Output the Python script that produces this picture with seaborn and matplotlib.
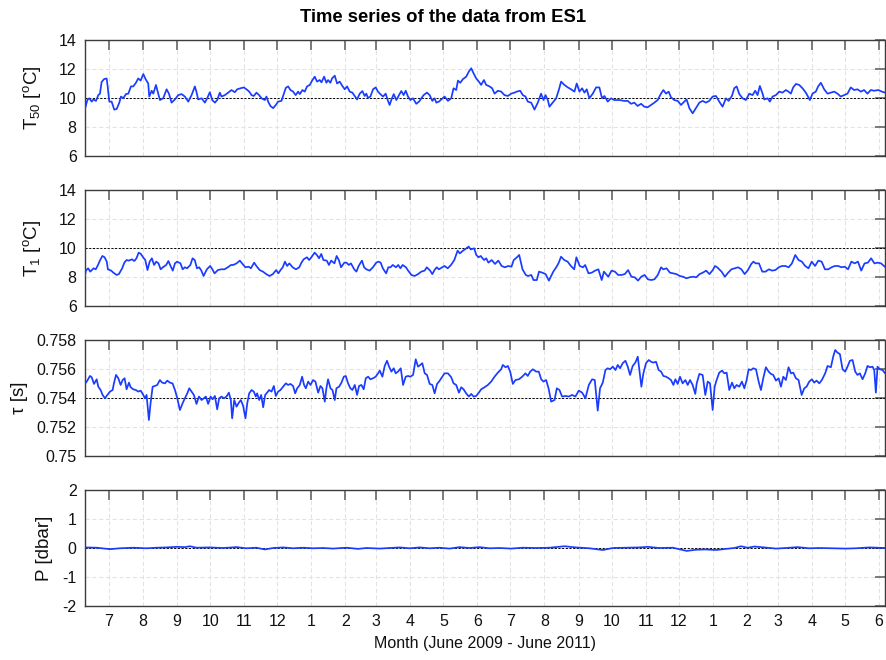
import numpy as np
import pandas as pd
import matplotlib
matplotlib.use("Agg")
import matplotlib.pyplot as plt
import matplotlib.dates as mdates
import seaborn as sns

# ---------------- data (days since 2009-06-01) ----------------
START = "2009-06-01"

t50_days = [7.6, 10.3, 12.1, 14.3, 15.8, 18.2, 20.3, 21.8, 23.3, 25.5, 27.9, 28.8, 30.3, 32.4, 34.8, 37.0,
            39.4, 40.9, 43.0, 45.4, 47.6, 50.0, 52.1, 54.5, 56.6, 58.8, 61.2, 63.3, 65.7, 66.6, 68.8, 70.3,
            72.7, 74.8, 76.3, 79.3, 82.4, 84.5, 86.9, 89.9, 93.0, 96.0, 99.0, 102.1, 105.1, 108.1, 109.6,
            111.1, 114.2, 117.2, 119.3, 121.7, 123.9, 126.3, 128.4, 130.8, 132.3, 135.4, 138.4, 141.4,
            144.4, 146.6, 149.6, 152.6, 155.0, 157.5, 159.6, 161.7, 164.1, 166.5, 168.7, 171.7, 173.2,
            174.7, 176.8, 179.3, 181.7, 183.8, 186.8, 189.0, 190.8, 192.9, 195.0, 197.4, 199.8, 202.0,
            203.5, 205.9, 208.0, 210.1, 212.6, 214.7, 217.1, 219.2, 221.6, 223.2, 225.6, 227.7, 229.2,
            231.3, 232.8, 235.3, 237.4, 239.8, 242.2, 244.4, 246.5, 248.9, 251.3, 253.4, 255.6, 258.0,
            260.4, 262.5, 264.0, 265.5, 267.7, 270.1, 272.5, 274.6, 276.7, 279.2, 281.6, 283.7, 285.2,
            286.7, 288.9, 291.3, 293.7, 295.8, 297.9, 299.8, 301.9, 304.0, 306.4, 309.4, 311.9, 314.0,
            316.1, 319.1, 321.6, 324.0, 326.1, 327.6, 330.0,
            335.1, 338.2, 341.2, 343.3, 345.7, 347.3, 349.4, 351.8, 354.8, 357.2, 359.4, 361.5, 363.9,
            366.3, 368.4, 370.9, 373.0, 376.0, 378.4, 380.6, 383.6, 386.6, 389.6, 392.7, 395.7, 398.7,
            400.8, 403.9, 406.3, 408.7, 410.8, 413.9, 416.9, 419.9, 422.9, 425.1, 426.9, 429.0, 430.5,
            433.5, 436.6, 439.0, 441.1, 444.1, 447.2, 450.2, 453.2, 455.3, 457.8, 460.2, 462.3, 464.4,
            466.8, 469.9, 472.9, 475.9, 478.3, 480.5, 483.5, 486.5, 489.5, 494.1, 498.6, 501.7, 504.7,
            507.7, 510.7, 513.8, 516.8, 519.8, 522.9, 525.9, 528.9, 531.9, 534.1, 536.5, 538.9, 541.0,
            544.0, 547.1, 550.1, 553.1, 555.2, 557.7, 560.7, 563.7, 566.8, 569.8, 572.8, 575.8, 578.9,
            581.9, 584.9, 587.9, 591.0, 593.4, 596.4, 598.5, 600.7, 603.1, 606.1, 609.1, 612.2, 615.2,
            617.6, 619.7, 621.8, 624.3, 625.8, 628.8, 630.9, 633.4, 636.4, 639.4, 642.4, 645.5, 647.9,
            650.0, 652.1, 654.6, 657.6, 660.6, 663.6, 667.3, 669.7, 672.7, 674.8, 677.3, 680.3, 683.3,
            686.3, 689.4, 692.4, 695.4, 698.5, 701.5, 704.5, 707.5, 710.6, 713.6, 716.6, 719.7, 722.7,
            725.7, 729.6, 732.7, 735.7]
t50_vals = [9.06, 9.86, 9.98, 9.75, 9.9, 9.8, 10.2, 10.3, 11.1, 11.3, 11.35, 10.8, 9.75, 9.75, 9.2, 9.24,
            9.68, 10.1, 9.98, 10.27, 10.3, 10.8, 10.8, 11.05, 11.35, 11.2, 11.65, 11.3, 11.0, 10.1, 10.5, 10.3,
            10.9, 10.3, 9.86, 9.98, 10.6, 10.3, 9.68, 9.9, 10.2, 10.27, 10.1, 9.75, 10.2, 10.8, 10.4,
            9.9, 9.98, 9.68, 9.98, 10.4, 9.86, 9.68, 9.86, 10.37, 10.1, 10.2, 10.37, 10.55,
            10.4, 10.6, 10.67, 10.73, 10.6, 10.44, 10.2, 10.14, 10.37, 10.2, 9.98, 9.86, 10.1,
            9.75, 9.45, 9.3, 9.52, 9.75, 9.8, 10.3, 10.7, 10.8, 10.55, 10.44, 10.2, 10.44,
            10.27, 10.55, 10.44, 10.8, 10.9, 11.2, 11.47, 11.13, 11.24, 11.08, 11.47, 11.05, 11.24,
            11.05, 11.35, 11.54, 11.0, 11.13, 10.83, 10.6, 10.8, 10.44, 10.37, 10.14, 9.9, 10.3,
            10.48, 10.14, 10.3, 10.0, 10.1, 10.6, 10.73, 10.44, 10.27, 10.1, 10.3, 9.8, 9.52,
            9.86, 10.27, 9.86, 10.2, 10.48, 10.2, 10.5, 10.1, 9.86, 9.98, 9.6, 9.75, 9.98,
            10.2, 10.37, 10.2, 9.8, 9.98, 9.68, 9.75,
            10.1, 9.8, 9.98, 10.67, 10.55, 11.2, 11.05, 11.3, 11.47, 11.82, 12.05, 11.7, 11.35,
            11.13, 10.9, 11.24, 10.9, 10.8, 10.67, 10.3, 10.5, 10.44, 10.2, 10.14, 10.3, 10.37,
            10.44, 10.5, 10.2, 10.1, 9.75, 9.68, 9.2, 9.68, 10.3, 9.86, 10.2, 9.86, 9.4,
            9.68, 9.98, 10.55, 11.13, 10.9, 10.73, 10.6, 10.44, 11.0, 10.44, 10.67, 10.37, 10.6,
            9.98, 10.3, 10.73, 10.73, 9.98, 10.14, 9.75, 9.98, 9.86, 9.86, 9.8, 9.8, 9.6,
            9.68, 9.45, 9.6, 9.4, 9.36, 9.52, 9.68, 9.86, 10.3, 10.55, 10.3, 10.44, 10.05,
            9.86, 9.8, 9.52, 9.75, 9.9, 9.3, 8.94, 9.3, 9.68, 9.8, 9.68, 9.8, 10.1,
            10.14, 9.75, 9.4, 9.98, 9.8, 10.14, 10.67, 10.8, 10.27, 9.98, 9.86, 10.3, 10.2,
            10.5, 10.2, 10.83, 10.3, 9.9, 9.98, 9.75, 10.1, 10.2, 10.44, 10.37, 10.55, 10.44,
            10.3, 10.73, 10.97, 10.9, 10.67, 10.37, 9.86, 10.3, 10.44, 10.8, 11.05, 10.6, 10.3,
            10.37, 10.44, 10.3, 10.1, 10.2, 10.3, 10.73, 10.55, 10.6, 10.44, 10.55, 10.3, 10.55,
            10.5, 10.55, 10.44, 10.37]

t1_days = [8, 9, 11, 13, 16, 18, 20, 22, 24, 26, 28, 29, 32, 34, 37, 39, 42, 44, 46, 48, 51, 53, 55, 57,
           59, 61, 63, 65, 67, 69, 71, 73, 75, 77, 79, 82, 84, 86, 88, 90, 92, 95, 97, 99, 101, 104, 106,
           108, 110, 112, 114, 116, 119, 122, 124, 126, 129, 132, 135, 138, 141, 143, 146, 149, 151, 154,
           157, 159, 162, 164, 167, 170, 173, 176, 179, 182, 184, 186, 188, 190, 192, 194, 197, 200, 203,
           205, 207, 210, 212, 214, 217, 219, 221, 223, 225, 228, 230, 232, 235, 237, 239, 241, 244, 246,
           248, 250, 253, 255, 257, 260, 262, 264, 267, 270, 273, 275, 277, 279, 282, 284, 286, 288, 291,
           293, 295, 297, 300, 302, 305, 308, 311, 314, 317, 319, 322, 324, 326, 328, 330,
           335, 338, 341, 344, 347, 349, 352, 355, 357, 359, 362, 364, 366, 368, 371, 373, 375, 378, 381,
           384, 387, 390, 393, 396, 398, 400, 403, 406, 409, 411, 414, 416, 419, 421, 424, 427, 430, 434,
           437, 439, 441, 444, 447, 450, 453, 455, 458, 461, 463, 466, 469, 472, 475, 478, 480, 484, 487,
           490, 493, 496, 499, 502, 505, 508, 511, 514, 517, 520, 523, 526, 529, 532, 534, 537, 540, 543,
           546, 549, 552, 555, 558, 561, 564, 567, 570, 573, 576, 579, 581, 583, 587, 590, 593, 596, 599,
           602, 605, 608, 611, 614, 616, 618, 621, 624, 627, 630, 633, 636, 639, 642, 645, 648, 651, 654,
           657, 660, 663, 666, 669, 672, 675, 678, 681, 684, 687, 690, 693, 696, 699, 702, 705, 708, 711,
           714, 717, 720, 723, 726, 729, 732, 736]
t1_vals = [8.02, 8.44, 8.6, 8.37, 8.6, 8.53, 8.83, 9.17, 9.45, 9.36, 9.06, 8.53, 8.44, 8.3, 8.14, 8.2,
           8.6, 8.99, 9.17, 9.13, 9.22, 9.1, 9.29, 9.68, 9.59, 9.36, 9.17, 8.48, 9.06, 9.29, 8.83, 9.06,
           8.94, 8.53, 8.67, 8.83, 9.1, 8.76, 8.44, 8.94, 9.06, 8.94, 8.53, 8.67, 8.6, 8.83, 9.29,
           9.17, 8.6, 8.67, 8.44, 8.07, 8.53, 8.76, 8.53, 8.25, 8.48, 8.53, 8.53, 8.67, 8.83, 8.83,
           8.94, 9.13, 8.94, 8.67, 8.71, 8.6, 8.99, 8.76, 8.48, 8.37, 8.2, 8.07, 8.2, 8.48, 8.25,
           8.48, 8.67, 9.06, 8.76, 8.94, 8.67, 8.53, 8.67, 8.99, 9.22, 9.36, 9.17, 9.36, 9.68, 9.52,
           9.29, 9.59, 9.17, 9.13, 8.83, 9.13, 8.94, 9.45, 9.17, 8.67, 8.99, 8.99, 8.83, 8.94, 8.53,
           8.37, 8.76, 9.13, 8.67, 8.53, 8.44, 8.67, 8.99, 9.06, 8.99, 8.6, 8.25, 8.67, 8.67, 8.83,
           8.67, 8.83, 8.6, 8.83, 8.67, 8.44, 8.14, 8.07, 8.2, 8.37, 8.44, 8.67, 8.44, 8.2, 8.48,
           8.67, 8.53,
           8.76, 8.6, 8.83, 9.17, 9.82, 9.63, 9.82, 9.98, 10.1, 9.9, 9.98, 9.52, 9.36, 9.45, 9.17,
           9.29, 8.99, 9.17, 8.9, 9.13, 8.76, 8.67, 8.76, 8.71, 9.17, 9.29, 9.52, 8.53, 8.14, 8.07,
           8.14, 7.79, 7.79, 8.37, 8.3, 8.2, 7.75, 8.37, 8.71, 8.99, 9.4, 9.17, 9.06, 8.76, 8.53,
           9.36, 8.76, 8.67, 8.83, 8.25, 8.3, 8.44, 8.53, 7.79, 8.37, 8.02, 8.44, 8.37, 8.14, 8.14,
           8.2, 8.48, 8.02, 7.98, 7.75, 8.02, 8.14, 7.84, 7.79, 7.84, 8.14, 8.67, 8.53, 8.6, 8.3,
           8.25, 8.2, 8.07, 8.02, 7.91, 7.98, 8.02, 7.98, 8.2, 8.3, 8.44, 8.2, 8.48, 8.76, 8.67,
           8.37, 8.02, 8.3, 8.53, 8.6, 8.67, 8.53, 8.2, 8.48, 8.9, 9.06, 8.94, 8.94, 8.37, 8.37,
           8.53, 8.44, 8.48, 8.67, 8.76, 8.76, 8.67, 8.94, 9.52, 9.17, 9.06, 8.76, 8.6, 9.06, 8.76,
           9.13, 9.06, 8.53, 8.53, 8.67, 8.76, 8.76, 8.67, 8.71, 8.53, 9.06, 8.94, 9.06, 8.44, 8.94,
           8.99, 9.29, 8.94, 8.99, 8.94, 8.67]

tau_days = [7.6, 9.1, 10.6, 12.7, 14.3, 16.4, 18.8, 20.3, 22.4, 24.2, 26.4, 28.5, 30.9, 33.3, 34.5, 36.4,
            38.5, 40.6, 42.4, 44.2, 46.0, 48.2, 49.7, 52.1, 54.5, 56.6, 58.8, 61.2, 62.7, 64.2, 66.3,
            67.8, 69.7, 71.8, 73.9, 76.3, 78.4, 80.9, 83.0, 85.4, 87.8, 90.0, 92.1, 94.5, 96.9, 99.0,
            101.2, 103.0, 105.1, 107.2, 109.6, 111.8, 114.2, 116.3, 118.1, 120.2, 122.4, 124.2, 126.3,
            128.4, 130.2, 132.3, 134.5, 136.9, 139.0, 140.8, 142.0, 143.9, 146.0, 148.1, 149.9, 152.0,
            154.1, 155.7, 157.5, 159.6, 161.7, 163.5, 164.7, 166.6, 168.4, 170.2, 172.0, 173.8, 175.6,
            177.8, 179.9, 181.7, 183.8, 185.9, 188.4, 190.8, 192.9, 195.0, 197.4, 199.3, 201.1, 203.5,
            205.6, 207.4, 209.0, 211.1, 213.2, 215.6, 217.7, 220.2, 222.3, 224.1, 226.2, 227.7, 229.2,
            231.4, 233.2, 235.3, 236.8, 239.2, 241.4, 243.5, 245.3, 247.4, 249.5, 251.3, 253.5, 255.6,
            257.4, 259.5, 261.6, 263.5, 265.6, 267.7, 270.1, 272.5, 274.7, 276.2, 278.6, 280.7, 282.8,
            284.7, 286.8, 288.9, 290.7, 292.8, 295.3, 297.4, 299.8, 301.9, 304.0, 306.5, 308.9, 311.0,
            313.1, 314.9, 317.1, 319.2, 321.6, 324.0, 326.1, 328.3, 330.1,
            335.1, 338.2, 341.2, 343.3, 345.7, 348.2, 350.3, 352.4, 354.8, 357.2, 359.4, 361.5, 363.9,
            366.3, 368.4, 371.5, 374.5, 377.5, 380.6, 383.6, 386.6, 388.1, 390.6, 392.7, 394.8, 397.2,
            399.6, 402.7, 405.7, 408.7, 410.8, 413.0, 415.4, 418.4, 420.8, 423.0, 425.1, 427.5, 429.9,
            432.0, 435.1, 437.2, 439.6, 442.0, 445.1, 448.1, 451.1, 454.1, 457.2, 460.2, 463.2, 466.3,
            469.3, 471.7, 474.4, 476.5, 479.0, 481.4, 483.5, 485.6, 488.1, 490.5, 492.6, 494.7, 497.1,
            499.6, 501.7, 503.8, 506.2, 508.6, 510.8, 512.3, 514.1, 515.9, 518.3, 520.8, 522.9, 525.0,
            527.4, 529.8, 532.0, 534.1, 536.5, 538.9, 541.0, 543.2, 545.0, 547.1, 549.2, 551.6, 554.1,
            556.2, 558.3, 560.7, 563.1, 564.4, 566.8, 569.8, 572.2, 574.4, 576.5, 578.9, 580.7, 582.5,
            584.9, 587.4, 589.5, 591.6, 594.0, 596.5, 598.6, 600.7, 603.1, 605.5, 607.7, 609.8, 611.6,
            613.7, 615.8, 618.3, 620.7, 622.8, 624.9, 627.3, 629.8, 631.9, 634.0, 636.4, 638.9, 641.0,
            643.1, 645.5, 647.9, 650.1, 652.2, 654.6, 657.0, 659.8, 662.2, 664.3, 666.7, 669.1, 671.2,
            673.4, 675.8, 678.2, 681.2, 683.4, 686.4, 688.5, 690.3, 692.4, 694.6, 697.0, 699.4, 701.5,
            703.7, 706.1, 708.5, 710.6, 712.7, 715.2, 717.6, 719.7, 721.9, 724.3, 725.8, 727.3, 728.8,
            730.9, 733.3, 735.7]
tau_vals = [0.75513, 0.75506, 0.75524, 0.75552, 0.75543, 0.75497, 0.75529, 0.75478, 0.75455, 0.75421,
            0.75398, 0.75421, 0.75444, 0.75455, 0.75501, 0.75559, 0.75536, 0.7549, 0.75524, 0.75536,
            0.7546, 0.75506, 0.75474, 0.7546, 0.75455, 0.75444, 0.75451, 0.75421, 0.75398, 0.75421,
            0.75248, 0.75363, 0.75478, 0.75483, 0.7549, 0.75524, 0.75506, 0.75501, 0.7552, 0.75506,
            0.75501, 0.75455, 0.75398, 0.75317, 0.75363, 0.75398, 0.75432, 0.75467, 0.75444, 0.75421,
            0.75359, 0.7541, 0.75386, 0.75398, 0.7541, 0.75359, 0.7541, 0.75391, 0.75414, 0.75322,
            0.75398, 0.7541, 0.75398, 0.7541, 0.75437, 0.75386, 0.7526, 0.75386, 0.7534, 0.75368,
            0.75386, 0.75345, 0.7526, 0.75363, 0.75432, 0.75455, 0.75444, 0.7541, 0.75432, 0.75386,
            0.75421, 0.75336, 0.75421, 0.75437, 0.75455, 0.75444, 0.75483, 0.75414, 0.75444, 0.75455,
            0.75478, 0.75501, 0.7549, 0.75497, 0.75483, 0.75432, 0.75467, 0.7549, 0.75547, 0.7549,
            0.75467, 0.75513, 0.7549, 0.75524, 0.75513, 0.75437, 0.75483, 0.75467, 0.75375, 0.75467,
            0.75529, 0.75467, 0.75455, 0.75386, 0.75467, 0.75478, 0.75506, 0.75547, 0.75552, 0.75501,
            0.75467, 0.75455, 0.7549, 0.75421, 0.75483, 0.7549, 0.7546, 0.75536, 0.75547, 0.75529,
            0.75536, 0.75547, 0.7557, 0.75589, 0.75547, 0.75621, 0.75657, 0.75616, 0.75582, 0.75605,
            0.7557, 0.75582, 0.75605, 0.7549, 0.75547, 0.75552, 0.75547, 0.75559, 0.75667, 0.75616,
            0.75628, 0.7564, 0.7557, 0.75559, 0.75497, 0.7549, 0.75432, 0.75497, 0.75513,
            0.7557, 0.7557, 0.75543, 0.75501, 0.7549, 0.75437, 0.75474, 0.7546, 0.75432, 0.7541,
            0.75428, 0.7541, 0.75414, 0.75437, 0.7546, 0.75474, 0.7549, 0.75513, 0.75547, 0.75575,
            0.75598, 0.75628, 0.75612, 0.75621, 0.75582, 0.75497, 0.75524, 0.75529, 0.75547, 0.7557,
            0.75552, 0.75582, 0.75598, 0.75582, 0.75582, 0.75529, 0.75513, 0.75524, 0.7546, 0.75375,
            0.75386, 0.75467, 0.75455, 0.7541, 0.75414, 0.7541, 0.75421, 0.7541, 0.75451, 0.75437,
            0.75398, 0.7549, 0.75529, 0.75524, 0.75313, 0.75467, 0.75506, 0.75593, 0.75605, 0.75598,
            0.75616, 0.75593, 0.75628, 0.75605, 0.7564, 0.75657, 0.75616, 0.75559, 0.75621, 0.75644,
            0.75685, 0.75593, 0.75478, 0.7557, 0.7564, 0.75662, 0.7565, 0.75644, 0.7565, 0.75593,
            0.75582, 0.75552, 0.75547, 0.75536, 0.75524, 0.7549, 0.75529, 0.75497, 0.75547, 0.75501,
            0.75524, 0.7549, 0.75524, 0.7549, 0.75428, 0.75501, 0.75566, 0.75559, 0.75421, 0.75513,
            0.75501, 0.75317, 0.75478, 0.75524, 0.75575, 0.75589, 0.7557, 0.75575, 0.75455, 0.75506,
            0.75467, 0.7549, 0.75478, 0.75513, 0.75467, 0.75524, 0.75598, 0.75593, 0.75605, 0.75598,
            0.75513, 0.75455, 0.75536, 0.75612, 0.75582, 0.75566, 0.75559, 0.7552, 0.75536, 0.75478,
            0.75547, 0.75524, 0.75612, 0.7557, 0.75575, 0.75536, 0.75524, 0.75421, 0.75467, 0.75478,
            0.75513, 0.75529, 0.75506, 0.7552, 0.75501, 0.75524, 0.7557, 0.75621, 0.75612, 0.75685,
            0.75731, 0.75713, 0.75703, 0.75598, 0.75582, 0.75616, 0.75657, 0.75662, 0.75582, 0.75559,
            0.7557, 0.75529, 0.7557, 0.75621, 0.75612, 0.75616, 0.75593, 0.75437, 0.75616, 0.75598,
            0.75593, 0.7557]

p_days = [7.6, 18.8, 30.9, 40.0, 52.1, 64.2, 73.3, 82.4, 91.5, 99.0, 103.6, 109.6, 121.7, 133.9, 146.0,
          155.1, 164.1, 171.7, 179.3, 188.4, 197.4, 206.5, 215.6, 224.7, 233.8, 245.9, 256.5, 264.1,
          276.2, 285.3, 294.3, 303.4, 312.5, 321.6, 330.1, 339.7, 348.8, 357.9, 366.9, 376.0, 385.1,
          395.7, 406.3, 418.4, 430.5, 444.1, 454.7, 466.9, 479.0, 488.1, 500.2, 512.3, 519.9, 530.4,
          542.6, 555.3, 563.8, 572.8, 581.9, 591.0, 598.6, 604.6, 610.7, 616.8, 625.8, 636.4, 645.5,
          656.1, 666.7, 675.8, 687.9, 700.0, 709.1, 721.3, 735.7]
p_vals = [0.02, 0.01, -0.04, -0.01, 0.01, -0.01, 0.01, 0.02, 0.04, 0.03, 0.06, 0.01, 0.02, 0.0, 0.03,
          -0.01, 0.01, -0.05, 0.0, 0.02, -0.01, 0.01, -0.01, 0.0, -0.02, 0.01, -0.03, 0.0,
          -0.02, 0.0, 0.02, -0.01, 0.02, -0.01, 0.01, -0.02, 0.03, 0.0, 0.03, -0.01, 0.0,
          -0.02, 0.01, 0.0, 0.01, 0.06, 0.02, -0.01, -0.07, 0.0, 0.01, 0.02, 0.04, 0.0,
          0.01, -0.1, -0.06, -0.05, -0.07, -0.03, 0.0, 0.06, 0.01, 0.05, 0.02, -0.02, 0.0,
          0.03, -0.01, 0.0, -0.01, -0.02, -0.01, 0.02, 0.0]

ylabels = [r"T$_{50}$ [$^{\rm o}$C]", r"T$_{1}$ [$^{\rm o}$C]", "τ [s]", "P [dbar]"]
yticks_list = [[6, 8, 10, 12, 14], [6, 8, 10, 12, 14],
               [0.750, 0.752, 0.754, 0.756, 0.758], [-2, -1, 0, 1, 2]]
yticklabels_list = [["6", "8", "10", "12", "14"], ["6", "8", "10", "12", "14"],
                    ["0.75", "0.752", "0.754", "0.756", "0.758"], ["-2", "-1", "0", "1", "2"]]
ref_levels = [10, 10, 0.754, 0]
title = "Time series of the data from ES1"
xlabel = "Month (June 2009 - June 2011)"

# ---------------- style ----------------
sns.set_theme(style="white")
plt.rcParams["font.family"] = ["Liberation Sans", "DejaVu Sans"]
plt.rcParams["mathtext.fontset"] = "custom"
plt.rcParams["mathtext.rm"] = "Liberation Sans"
plt.rcParams["mathtext.it"] = "Liberation Sans:italic"
plt.rcParams["mathtext.bf"] = "Liberation Sans:bold"
plt.rcParams["axes.unicode_minus"] = False

BLUE = "#1a3cff"
TXT = "#111111"
W, H = 886, 660
fig = plt.figure(figsize=(W / 100, H / 100), dpi=100)

series = [(t50_days, t50_vals), (t1_days, t1_vals), (tau_days, tau_vals), (p_days, p_vals)]
tops = [40, 190, 340, 490]
label_right = [43, 43, 28, 53]
start = pd.Timestamp(START)
xmin = start + pd.Timedelta(days=8.2)
xmax = start + pd.Timedelta(days=735.6)

for i, (days, vals) in enumerate(series):
    top = tops[i]
    ax = fig.add_axes([85 / W, 1 - (top + 116) / H, 800 / W, 116 / H])
    df = pd.DataFrame({"time": start + pd.to_timedelta(np.asarray(days), unit="D"),
                       "value": vals})
    ax.axhline(ref_levels[i], color="black", lw=0.7, ls=(0, (2.2, 1.6)), zorder=1.5)
    sns.lineplot(data=df, x="time", y="value", ax=ax, color=BLUE, lw=1.25,
                 estimator=None, sort=False, zorder=3)
    yt = yticks_list[i]
    ax.set_ylim(yt[0], yt[-1])
    ax.set_yticks(yt)
    ax.set_yticklabels(yticklabels_list[i])
    ax.set_xlim(xmin, xmax)
    ax.xaxis.set_major_locator(mdates.MonthLocator())
    ax.xaxis.set_major_formatter(mdates.DateFormatter("%-m"))
    ax.grid(True, color="#e2e2e2", lw=0.75, ls=(0, (4, 2.5)), zorder=0)
    ax.set_axisbelow(True)
    ax.tick_params(axis="both", which="major", direction="in", length=7, width=1.4,
                   color="#7a7a7a", top=True, right=True, labelsize=11.5,
                   labelcolor=TXT, pad=6)
    for sp in ax.spines.values():
        sp.set_color("#3c3c3c")
        sp.set_linewidth(1.0)
    ax.set_ylabel(ylabels[i], fontsize=13.5, color=TXT)
    ax.yaxis.set_label_coords((label_right[i] - 85) / 800, 0.5)
    if i < 3:
        ax.tick_params(axis="x", labelbottom=False)
        ax.set_xlabel("")
    else:
        ax.set_xlabel(xlabel, fontsize=11.5, color=TXT, labelpad=5)

fig.suptitle(title, fontsize=13.3, fontweight="bold", color="black",
             x=0.5, y=1 - 17 / H, va="center")
fig.savefig("out.png", dpi=100)
